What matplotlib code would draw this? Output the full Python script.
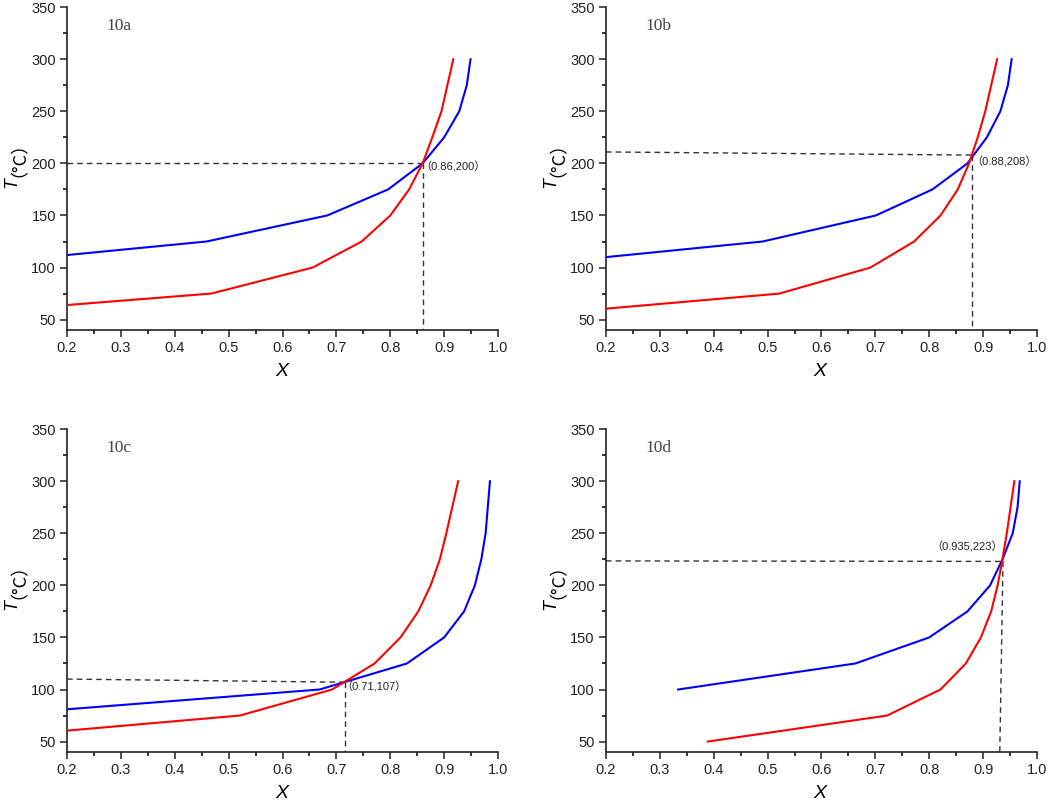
import matplotlib
matplotlib.use("Agg")
import matplotlib.pyplot as plt
from matplotlib.ticker import MultipleLocator

plt.rcParams['font.family'] = ['Liberation Sans', 'Noto Sans CJK SC', 'DejaVu Sans']
plt.rcParams['mathtext.fontset'] = 'custom'
plt.rcParams['mathtext.it'] = 'Liberation Sans:italic'
plt.rcParams['mathtext.rm'] = 'Liberation Sans'

# conversion X at the kinks, T in degC
t_a_red = [64, 75, 100, 125, 150, 175, 200, 225, 250, 275, 300]
x_a_red = [0.2, 0.468, 0.656, 0.747, 0.800, 0.835, 0.860, 0.878, 0.895, 0.906, 0.917]
t_a_blue = [112, 125, 150, 175, 200, 225, 250, 275, 300]
x_a_blue = [0.2, 0.459, 0.683, 0.796, 0.860, 0.900, 0.928, 0.942, 0.949]

t_b_red = [60.5, 75, 100, 125, 150, 175, 200, 225, 250, 275, 300]
x_b_red = [0.2, 0.522, 0.691, 0.772, 0.821, 0.853, 0.874, 0.890, 0.904, 0.915, 0.926]
t_b_blue = [110, 125, 150, 175, 200, 225, 250, 275, 300]
x_b_blue = [0.2, 0.491, 0.701, 0.806, 0.871, 0.907, 0.932, 0.946, 0.953]

t_c_red = [60.5, 75, 100, 125, 150, 175, 200, 225, 250, 275, 300]
x_c_red = [0.2, 0.521, 0.692, 0.771, 0.819, 0.852, 0.875, 0.892, 0.904, 0.915, 0.926]
t_c_blue = [81, 100, 125, 150, 175, 200, 225, 250, 275, 300]
x_c_blue = [0.2, 0.669, 0.831, 0.900, 0.937, 0.957, 0.969, 0.977, 0.981, 0.985]

t_d_red = [50, 75, 100, 125, 150, 175, 200, 225, 250, 275, 300]
x_d_red = [0.389, 0.722, 0.821, 0.868, 0.896, 0.915, 0.927, 0.936, 0.944, 0.951, 0.958]
t_d_blue = [100, 125, 150, 175, 200, 225, 250, 275, 300]
x_d_blue = [0.334, 0.663, 0.800, 0.871, 0.913, 0.936, 0.955, 0.964, 0.968]

# dashed guide lines: start -> crossing (horizontal), crossing -> bottom (vertical)
guides = {
    '10a': [(0.2, 200), (0.86, 200), (0.86, 40)],
    '10b': [(0.2, 211), (0.88, 208), (0.88, 40)],
    '10c': [(0.2, 110), (0.716, 107), (0.716, 40)],
    '10d': [(0.2, 223.5), (0.937, 223), (0.931, 40)],
}
notes = {
    '10a': ('（0.86,200）', 0.856, 197),
    '10b': ('（0.88,208）', 0.879, 201),
    '10c': ('（0.71,107）', 0.709, 102),
    '10d': ('（0.935,223）', 0.803, 237),
}

panels = [
    ('10a', x_a_red, t_a_red, x_a_blue, t_a_blue),
    ('10b', x_b_red, t_b_red, x_b_blue, t_b_blue),
    ('10c', x_c_red, t_c_red, x_c_blue, t_c_blue),
    ('10d', x_d_red, t_d_red, x_d_blue, t_d_blue),
]

fig = plt.figure(figsize=(10.52, 8.01), dpi=100)
rects = [
    [0.0637, 0.588, 0.4097, 0.403],
    [0.5760, 0.588, 0.4097, 0.403],
    [0.0637, 0.0612, 0.4097, 0.403],
    [0.5760, 0.0612, 0.4097, 0.403],
]

for rect, (name, xr, tr, xb, tb) in zip(rects, panels):
    ax = fig.add_axes(rect)
    ax.plot(xb, tb, color='#0000ff', lw=1.5, zorder=3)
    ax.plot(xr, tr, color='#ff0000', lw=1.5, zorder=3)

    g = guides[name]
    ax.plot([g[0][0], g[1][0]], [g[0][1], g[1][1]], color='#333333', lw=1,
            ls=(0, (4, 3)), zorder=2)
    ax.plot([g[1][0], g[2][0]], [g[1][1], g[2][1]], color='#333333', lw=1,
            ls=(0, (4, 3)), zorder=2)

    txt, nx, ny = notes[name]
    ax.text(nx, ny, txt, fontsize=8, color='#222222', va='center', ha='left',
            family=['Liberation Sans', 'Noto Sans CJK SC'])
    ax.text(0.274, 332, name, fontsize=12.5, color='#444444', va='center', ha='left',
            family='Liberation Serif')

    ax.set_xlim(0.2, 1.0)
    ax.set_ylim(40, 350)
    ax.xaxis.set_minor_locator(MultipleLocator(0.05))
    ax.yaxis.set_minor_locator(MultipleLocator(25))
    ax.set_yticks([50, 100, 150, 200, 250, 300, 350])
    ax.set_xticks([0.2, 0.3, 0.4, 0.5, 0.6, 0.7, 0.8, 0.9, 1.0])
    ax.set_xticklabels(['0.2', '0.3', '0.4', '0.5', '0.6', '0.7', '0.8', '0.9', '1.0'])
    ax.tick_params(which='major', direction='out', length=5, width=1.1, labelsize=10.5,
                   colors='#222222', pad=3)
    ax.tick_params(which='minor', direction='out', length=3, width=1.1)
    for s in ['top', 'right']:
        ax.spines[s].set_visible(False)
    for s in ['left', 'bottom']:
        ax.spines[s].set_linewidth(1.2)
        ax.spines[s].set_color('#222222')

    ax.set_xlabel('$X$', fontsize=14, labelpad=6)
    # y label: italic T plus full-width bracket unit, two pieces
    ax.text(-0.118, 0.44, 'T', rotation=90, rotation_mode='anchor', fontsize=13,
            style='italic', ha='left', va='baseline', transform=ax.transAxes,
            family='Liberation Sans')
    ax.text(-0.122, 0.474, '（°C）', rotation=90, rotation_mode='anchor', fontsize=13,
            ha='left', va='baseline', transform=ax.transAxes,
            family='Noto Sans CJK SC')

fig.savefig('out.png', dpi=100)
